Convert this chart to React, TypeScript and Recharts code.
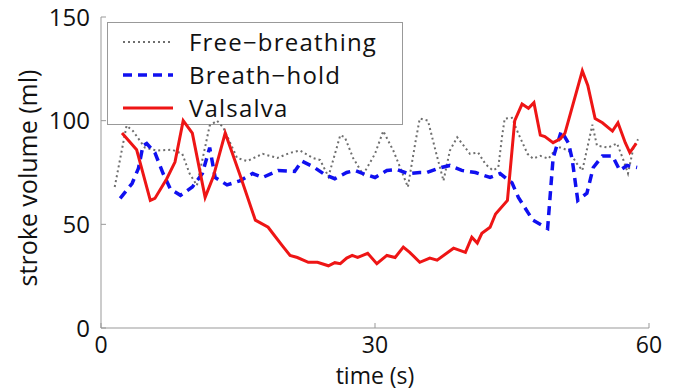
import React from 'react'
import { LineChart, Line, XAxis, YAxis } from 'recharts'

// time (s) / stroke volume (ml)
const freeTimes = [1.5, 2.8, 3.5, 4.8, 6.1, 7.8, 8.9, 9.7, 10.5, 11.9, 12.7, 13.4, 14.9, 16.0, 17.7, 19.3, 20.7, 21.8, 23.2, 24.0, 24.9, 26.2, 26.7, 27.6, 28.7, 30.0, 30.9, 32.0, 32.7, 33.6, 34.4, 34.9, 35.8, 36.6, 37.5, 38.2, 39.0, 40.4, 41.3, 42.1, 42.9, 43.5, 43.9, 44.2, 45.0, 45.7, 46.7, 47.3, 48.1, 49.0, 49.9, 50.3, 51.2, 52.1, 52.7, 53.8, 54.3, 55.5, 56.5, 57.2, 57.7, 58.3, 58.8]
const freeValues = [68, 97.6, 95, 87, 85.6, 86, 84, 74.5, 68.8, 97.6, 100, 96.6, 82, 80.5, 84, 82, 84.5, 85.6, 82, 81, 73, 93, 92, 82, 74, 84, 95, 85.6, 78, 68, 89, 101, 100, 86, 71, 85.6, 92, 84, 84.6, 79, 76, 77.4, 92, 101, 101.4, 93.7, 84, 81.7, 83, 81.7, 87, 87, 85.6, 79.3, 76, 98, 88, 87, 89, 81, 74.5, 87, 91]

const holdTimes = [2.1, 3.4, 4.1, 4.6, 5.0, 5.9, 6.8, 7.6, 8.7, 10.0, 11.1, 11.9, 12.5, 13.8, 15.2, 16.6, 17.7, 19.4, 21.2, 22.0, 23.3, 24.5, 25.6, 26.9, 27.8, 28.7, 30.0, 31.3, 32.4, 33.6, 34.9, 35.7, 36.9, 38.2, 39.5, 41.0, 42.6, 43.7, 45.0, 45.7, 46.7, 47.3, 48.9, 49.5, 50.4, 51.2, 51.6, 52.2, 53.2, 53.9, 54.9, 56.0, 56.8, 57.6, 58.7]
const holdValues = [62.5, 69.7, 77, 88, 89, 84.6, 74.5, 67, 64, 68, 74.5, 87, 72.6, 69, 71, 74.5, 72.6, 76, 75.5, 80.5, 77.6, 74, 72, 75, 76, 74.5, 72.6, 76, 76.4, 74.5, 75, 75, 77, 78.4, 76, 75, 72.6, 74.5, 70, 63, 56, 52, 48, 82, 95, 89, 81, 61.5, 65, 77.4, 83, 83, 76, 78.4, 77.4]

const valsalvaTimes = [2.3, 3.9, 5.4, 5.9, 7.2, 8.1, 9.0, 10.0, 11.4, 12.3, 13.6, 15.2, 16.9, 18.3, 18.8, 19.8, 20.7, 21.5, 22.7, 23.7, 24.9, 25.6, 26.2, 26.9, 27.5, 28.1, 29.2, 30.2, 31.3, 32.2, 33.1, 33.8, 34.9, 36.0, 36.8, 38.6, 39.9, 40.6, 41.2, 41.7, 42.6, 43.2, 44.5, 45.3, 46.1, 46.8, 47.4, 48.1, 48.6, 49.5, 50.3, 50.8, 52.7, 53.3, 54.1, 54.9, 56.0, 56.6, 57.4, 57.9, 58.6]
const valsalvaValues = [94, 86, 61.5, 62.5, 72, 80, 100, 94, 63, 73, 94, 74, 52, 48.6, 45.7, 40, 35, 34, 31.7, 31.7, 30, 31.5, 31, 33.7, 35, 34, 36, 31, 35, 34, 39, 36.5, 31.7, 33.7, 32.7, 38.5, 36.5, 43.8, 41, 45.7, 48.6, 55, 61.5, 100, 108, 106, 108.7, 93, 92.3, 89.4, 91.3, 94, 124, 117, 101, 99, 95, 99, 89.4, 84.6, 89]

const xTicks = [0, 30, 60]
const yTicks = [0, 50, 100, 150]

const toPoints = (ts: number[], vs: number[]) => ts.map((t, i) => ({ t, v: vs[i] }))

const series = [
  { name: 'Free\u2212breathing', data: toPoints(freeTimes, freeValues), color: '#6e6e6e', width: 2, dash: '2 3' },
  { name: 'Breath\u2212hold', data: toPoints(holdTimes, holdValues), color: '#1010f0', width: 3.5, dash: '9 6' },
  { name: 'Valsalva', data: toPoints(valsalvaTimes, valsalvaValues), color: '#ee1515', width: 3, dash: undefined },
]

const font = '"Open Sans", sans-serif'
const axisColor = '#999'

// legend sits behind the plot, like the original figure
function LegendBox() {
  return (
    <div style={{
      position: 'absolute', left: 107, top: 22, width: 296, height: 103,
      border: '1px solid #999', background: '#fff', boxSizing: 'border-box', paddingTop: 2,
    }}>
      {series.map(s => (
        <div key={s.name} style={{ display: 'flex', alignItems: 'center', height: 33 }}>
          <svg width={66} height={10} style={{ marginLeft: 15 }}>
            <line x1={0} y1={5} x2={50} y2={5} stroke={s.color} strokeWidth={s.width} strokeDasharray={s.dash} />
          </svg>
          <span style={{ fontFamily: font, fontSize: 24, letterSpacing: 1.2, color: '#111', lineHeight: '28px' }}>{s.name}</span>
        </div>
      ))}
    </div>
  )
}

const YLabel = () => (
  <text x={27} y={178} transform="rotate(-90 27 178)" textAnchor="middle" dominantBaseline="central"
    fill="#111" fontSize={25} fontFamily={font}>
    stroke volume (ml)
  </text>
)

export default function App() {
  return (
    <div style={{ position: 'absolute', left: 0, top: 0, width: 674, height: 389, background: '#fff', overflow: 'hidden' }}>
      <LegendBox />
      <div style={{ position: 'absolute', left: 0, top: 0 }}>
        <LineChart width={674} height={389} margin={{ top: 17, right: 25, bottom: 0, left: 0 }}>
          <XAxis
            type="number"
            dataKey="t"
            domain={[0, 60]}
            ticks={xTicks}
            allowDuplicatedCategory={false}
            height={61}
            stroke={axisColor}
            tickSize={-5}
            tickMargin={14}
            tick={{ fill: '#111', fontSize: 23, fontFamily: font }}
            label={{ value: 'time (s)', position: 'insideBottom', offset: 5, fill: '#111', fontSize: 23, fontFamily: font }}
          />
          <YAxis
            type="number"
            domain={[0, 150]}
            ticks={yTicks}
            width={101}
            stroke={axisColor}
            tickSize={-5}
            tickMargin={16}
            tick={{ fill: '#111', fontSize: 24, fontFamily: font }}
            label={<YLabel />}
          />
          {series.map(s => (
            <Line
              key={s.name}
              data={s.data}
              dataKey="v"
              name={s.name}
              stroke={s.color}
              strokeWidth={s.width}
              strokeDasharray={s.dash}
              dot={false}
              activeDot={false}
              type="linear"
              isAnimationActive={false}
            />
          ))}
        </LineChart>
      </div>
    </div>
  )
}
